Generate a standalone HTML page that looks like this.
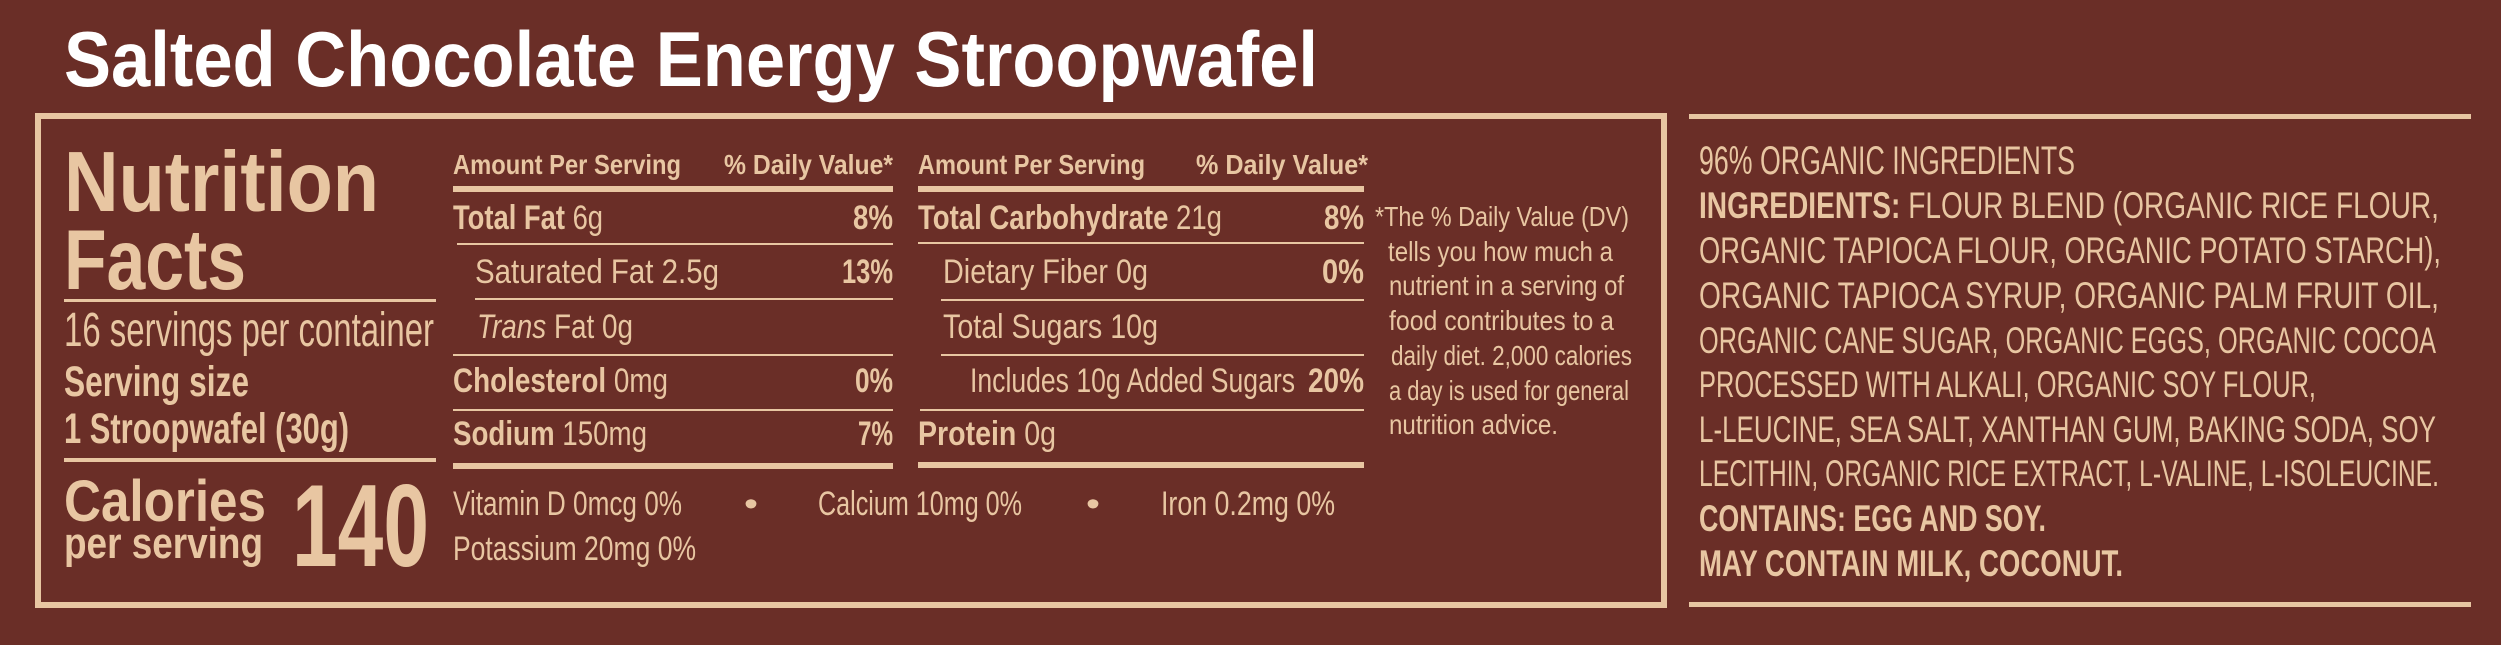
<!DOCTYPE html>
<html><head><meta charset="utf-8">
<style>
html,body{margin:0;padding:0}
body{width:2501px;height:645px;background:#6a2e27;position:relative;overflow:hidden;font-family:"Liberation Sans",sans-serif;color:#e8c6a2}
.t{position:absolute;white-space:nowrap;line-height:1;transform-origin:0 0}
.b{font-weight:bold}
.r{position:absolute;background:#e8c6a2}
</style></head><body>
<!-- boxes -->
<div style="position:absolute;left:35px;top:113px;width:1620px;height:483px;border:6px solid #e8c6a2"></div>
<div class="r" style="left:1689px;top:114px;width:782px;height:5px"></div>
<div class="r" style="left:1689px;top:602px;width:782px;height:5px"></div>
<!-- left rules -->
<div class="r" style="left:64px;top:299px;width:372px;height:3px"></div>
<div class="r" style="left:64px;top:458px;width:372px;height:4px"></div>
<!-- col1 rules -->
<div class="r" style="left:453px;top:186px;width:440px;height:6px"></div>
<div class="r" style="left:457px;top:243px;width:436px;height:2px"></div>
<div class="r" style="left:475px;top:298px;width:418px;height:2px"></div>
<div class="r" style="left:453px;top:354px;width:440px;height:2px"></div>
<div class="r" style="left:453px;top:409px;width:440px;height:2px"></div>
<div class="r" style="left:453px;top:463px;width:440px;height:6px"></div>
<!-- col2 rules -->
<div class="r" style="left:918px;top:186px;width:446px;height:6px"></div>
<div class="r" style="left:918px;top:242px;width:446px;height:2px"></div>
<div class="r" style="left:941px;top:299px;width:423px;height:2px"></div>
<div class="r" style="left:941px;top:354px;width:423px;height:2px"></div>
<div class="r" style="left:920px;top:409px;width:444px;height:2px"></div>
<div class="r" style="left:918px;top:462px;width:446px;height:6px"></div>

<div class="t b" style="--x:64;--y:86;--f:78;--w:1254;color:#fff">Salted Chocolate Energy Stroopwafel</div>

<div class="t b" style="--x:64;--y:212;--f:85;--w:315">Nutrition</div>
<div class="t b" style="--x:64;--y:290;--f:85;--w:182">Facts</div>
<div class="t" style="--x:64;--y:348;--f:48;--w:370">16 servings per container</div>
<div class="t b" style="--x:64;--y:397;--f:43;--w:185">Serving size</div>
<div class="t b" style="--x:64;--y:444;--f:43;--w:285">1 Stroopwafel (30g)</div>
<div class="t b" style="--x:64;--y:522;--f:58;--w:202">Calories</div>
<div class="t b" style="--x:64;--y:559;--f:44;--w:199">per serving</div>
<div class="t b" style="--x:292;--y:566;--f:117;--w:137">140</div>

<div class="t b" style="--x:453;--y:175;--f:28;--w:228">Amount Per Serving</div>
<div class="t b" style="--x:724;--y:175;--f:28;--w:169">% Daily Value*</div>
<div class="t" style="--x:453;--y:230;--f:34;--w:150"><b>Total Fat</b> 6g</div>
<div class="t b" style="--x:853;--y:230;--f:34;--w:40">8%</div>
<div class="t" style="--x:475;--y:284;--f:34;--w:244">Saturated Fat 2.5g</div>
<div class="t b" style="--x:842;--y:284;--f:34;--w:51">13%</div>
<div class="t" style="--x:477;--y:339;--f:34;--w:156"><i>Trans</i> Fat 0g</div>
<div class="t" style="--x:453;--y:393;--f:34;--w:215"><b>Cholesterol</b> 0mg</div>
<div class="t b" style="--x:855;--y:393;--f:34;--w:38">0%</div>
<div class="t" style="--x:453;--y:446;--f:34;--w:194"><b>Sodium</b> 150mg</div>
<div class="t b" style="--x:858;--y:446;--f:34;--w:35">7%</div>

<div class="t" style="--x:453;--y:516;--f:34;--w:229">Vitamin D 0mcg 0%</div>
<div class="t" style="--x:453;--y:561;--f:34;--w:243">Potassium 20mg 0%</div>
<div class="t" style="--x:744;--y:516;--f:34;--w:14">•</div>
<div class="t" style="--x:818;--y:516;--f:34;--w:204">Calcium 10mg 0%</div>
<div class="t" style="--x:1086;--y:516;--f:34;--w:14">•</div>
<div class="t" style="--x:1161;--y:516;--f:34;--w:174">Iron 0.2mg 0%</div>

<div class="t b" style="--x:918;--y:175;--f:28;--w:227">Amount Per Serving</div>
<div class="t b" style="--x:1196;--y:175;--f:28;--w:172">% Daily Value*</div>
<div class="t" style="--x:918;--y:230;--f:34;--w:304"><b>Total Carbohydrate</b> 21g</div>
<div class="t b" style="--x:1324;--y:230;--f:34;--w:40">8%</div>
<div class="t" style="--x:943;--y:284;--f:34;--w:205">Dietary Fiber 0g</div>
<div class="t b" style="--x:1322;--y:284;--f:34;--w:42">0%</div>
<div class="t" style="--x:943;--y:339;--f:34;--w:215">Total Sugars 10g</div>
<div class="t" style="--x:970;--y:393;--f:34;--w:325">Includes 10g Added Sugars</div>
<div class="t b" style="--x:1308;--y:393;--f:34;--w:56">20%</div>
<div class="t" style="--x:918;--y:446;--f:34;--w:138"><b>Protein</b> 0g</div>

<div class="t" style="--x:1375;--y:227;--f:28;--w:254">*The % Daily Value (DV)</div>
<div class="t" style="--x:1388;--y:262;--f:28;--w:225">tells you how much a</div>
<div class="t" style="--x:1389;--y:296;--f:28;--w:235">nutrient in a serving of</div>
<div class="t" style="--x:1389;--y:331;--f:28;--w:225">food contributes to a</div>
<div class="t" style="--x:1391;--y:366;--f:28;--w:241">daily diet. 2,000 calories</div>
<div class="t" style="--x:1389;--y:401;--f:28;--w:240">a day is used for general</div>
<div class="t" style="--x:1389;--y:435;--f:28;--w:169">nutrition advice.</div>

<div class="t" style="--x:1699;--y:175;--f:40;--w:376">96% ORGANIC INGREDIENTS</div>
<div class="t" style="--x:1699;--y:218;--f:37;--w:740"><b>INGREDIENTS:</b> FLOUR BLEND (ORGANIC RICE FLOUR,</div>
<div class="t" style="--x:1699;--y:263;--f:37;--w:742">ORGANIC TAPIOCA FLOUR, ORGANIC POTATO STARCH),</div>
<div class="t" style="--x:1699;--y:308;--f:37;--w:740">ORGANIC TAPIOCA SYRUP, ORGANIC PALM FRUIT OIL,</div>
<div class="t" style="--x:1699;--y:353;--f:37;--w:737">ORGANIC CANE SUGAR, ORGANIC EGGS, ORGANIC COCOA</div>
<div class="t" style="--x:1699;--y:397;--f:37;--w:617">PROCESSED WITH ALKALI, ORGANIC SOY FLOUR,</div>
<div class="t" style="--x:1699;--y:442;--f:37;--w:737">L-LEUCINE, SEA SALT, XANTHAN GUM, BAKING SODA, SOY</div>
<div class="t" style="--x:1699;--y:486;--f:37;--w:740">LECITHIN, ORGANIC RICE EXTRACT, L-VALINE, L-ISOLEUCINE.</div>
<div class="t b" style="--x:1699;--y:531;--f:37;--w:347">CONTAINS: EGG AND SOY.</div>
<div class="t b" style="--x:1699;--y:576;--f:37;--w:424">MAY CONTAIN MILK, COCONUT.</div>

<script>
document.querySelectorAll('.t').forEach(function(e){
  var s=getComputedStyle(e);
  var x=parseFloat(s.getPropertyValue('--x')),y=parseFloat(s.getPropertyValue('--y')),
      f=parseFloat(s.getPropertyValue('--f')),w=parseFloat(s.getPropertyValue('--w'));
  e.style.fontSize=f+'px';
  e.style.left=x+'px';
  e.style.top=(y-0.846*f)+'px';
  var cw=e.getBoundingClientRect().width;
  if(cw>0) e.style.transform='scaleX('+(w/cw)+')';
});
</script>
</body></html>
